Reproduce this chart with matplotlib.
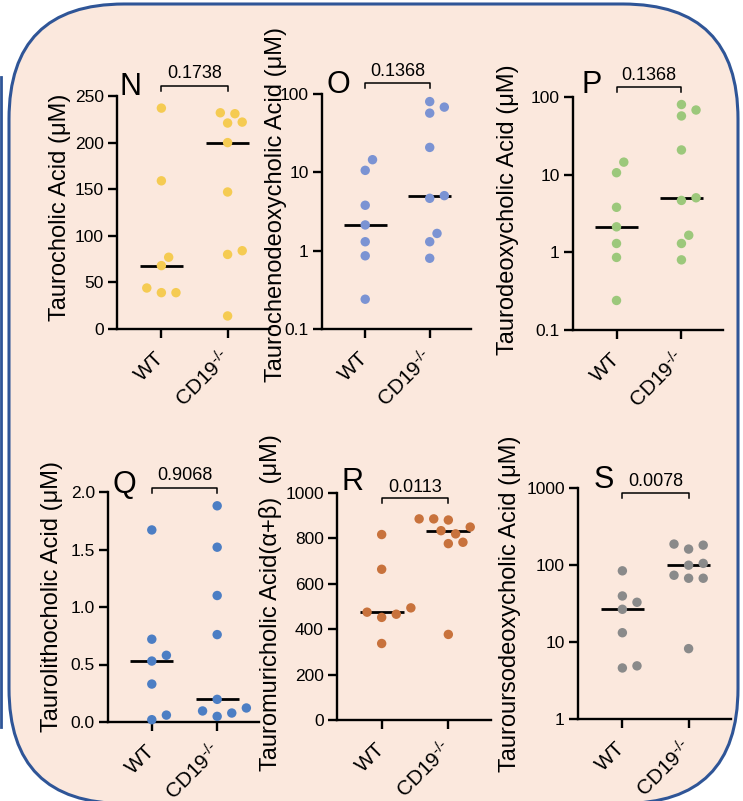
import numpy as np
import matplotlib
matplotlib.use("Agg")
import matplotlib.pyplot as plt
from matplotlib.patches import FancyBboxPatch
from matplotlib.transforms import blended_transform_factory
from matplotlib.ticker import FuncFormatter, NullLocator

plt.rcParams['font.family'] = ['Liberation Sans', 'DejaVu Sans']
plt.rcParams['mathtext.fontset'] = 'custom'
plt.rcParams['mathtext.rm'] = 'Liberation Sans'
plt.rcParams['mathtext.it'] = 'Liberation Sans:italic'

W, H = 743, 801

groups = ['WT', r'CD19$^{\text{-/-}}$']

# values (uM)
tca_wt = [237, 159, 77, 68, 44, 39, 39]
tca_ko = [232, 231, 222, 221, 200, 147, 84, 80, 14]
tcdca_wt = [14.5, 10.6, 3.8, 2.13, 1.30, 0.86, 0.24]
tcdca_ko = [80, 68, 57, 20.8, 5.04, 4.66, 1.66, 1.30, 0.80]
tdca_wt = [14.5, 10.6, 3.8, 2.13, 1.30, 0.86, 0.24]
tdca_ko = [80, 68, 57, 20.8, 5.04, 4.66, 1.66, 1.30, 0.80]
tlca_wt = [1.67, 0.72, 0.58, 0.53, 0.33, 0.06, 0.02]
tlca_ko = [1.88, 1.52, 1.10, 0.76, 0.197, 0.122, 0.096, 0.078, 0.049]
tmca_wt = [817, 664, 494, 475, 466, 452, 337]
tmca_ko = [886, 886, 881, 850, 834, 820, 783, 777, 377]
tudca_wt = [84, 39.6, 32.8, 26.6, 13.2, 4.9, 4.6]
tudca_ko = [187, 181, 161, 105, 99.4, 73.6, 67.3, 67.3, 8.2]

pvals = ['0.1738', '0.1368', '0.1368', '0.9068', '0.0113', '0.0078']
letters = ['N', 'O', 'P', 'Q', 'R', 'S']
ylabels = ['Taurocholic Acid (μM)',
           'Taurochenodeoxycholic Acid (μM)',
           'Taurodeoxycholic Acid (μM)',
           'Taurolithocholic Acid (μM)',
           'Tauromuricholic Acid(α+β)  (μM)',
           'Tauroursodeoxycholic Acid (μM)']
colors = ['#F5CB52', '#7B93D3', '#9CC87B', '#4C7EC4', '#C8723C', '#8A8A8A']
data = [(tca_wt, tca_ko), (tcdca_wt, tcdca_ko), (tdca_wt, tdca_ko),
        (tlca_wt, tlca_ko), (tmca_wt, tmca_ko), (tudca_wt, tudca_ko)]

# layout in pixels: axes box, y-label centre, letter pos, bracket y, p-text y
panels = [
    dict(box=(117, 96, 270, 329), ylim=(0, 250), yticks=[0, 50, 100, 150, 200, 250], log=False, fmt='{:g}',
         lab=(60, 207), let=(120, 95), br=86, pt=73),
    dict(box=(322, 94, 471, 329), ylim=(0.1, 100), yticks=[0.1, 1, 10, 100], log=True, fmt='{:g}',
         lab=(276, 205), let=(327, 93), br=83, pt=71),
    dict(box=(573, 97, 723, 330), ylim=(0.1, 100), yticks=[0.1, 1, 10, 100], log=True, fmt='{:g}',
         lab=(508, 210), let=(582, 93), br=87, pt=75),
    dict(box=(108, 492, 259, 722), ylim=(0, 2), yticks=[0, 0.5, 1, 1.5, 2], log=False, fmt='{:.1f}',
         lab=(52, 596), let=(112, 493), br=488, pt=475),
    dict(box=(337, 493, 491, 720), ylim=(0, 1000), yticks=[0, 200, 400, 600, 800, 1000], log=False, fmt='{:g}',
         lab=(270, 603), let=(341, 490), br=498, pt=487),
    dict(box=(578, 488, 731, 719), ylim=(1, 1000), yticks=[1, 10, 100, 1000], log=True, fmt='{:g}',
         lab=(510, 604), let=(594, 488), br=493, pt=482),
]


def swarm(ax, x0, vals, step=7.3, dmin=11.0):
    # simple beeswarm in pixel space, lowest values placed first
    pts = ax.transData.transform([[x0, v] for v in vals])
    placed = []
    xs = np.zeros(len(vals))
    cands = [0]
    for j in range(1, 12):
        cands += [j, -j]
    for i in np.argsort(vals):
        px, py = pts[i]
        for c in cands:
            cx = px + c * step
            if all((cx - qx) ** 2 + (py - qy) ** 2 >= dmin ** 2 for qx, qy in placed):
                break
        placed.append((cx, py))
        xs[i] = cx
    return ax.transData.inverted().transform(np.column_stack([xs, pts[:, 1]]))[:, 0]


fig = plt.figure(figsize=(W / 100, H / 100), dpi=100)
fig.patch.set_facecolor('white')

# rounded background panel (inches, via dpi_scale_trans), bottom edge just off the canvas
bg = FancyBboxPatch((9 / 100, (H - 803.5) / 100), 729 / 100, 799.5 / 100,
                    boxstyle='round,pad=0,rounding_size=1.15',
                    transform=fig.dpi_scale_trans, facecolor='#FBE8DD',
                    edgecolor='#2F5597', lw=2.2, zorder=-5)
fig.patches.append(bg)
edge = plt.Line2D([1 / W, 1 / W], [1 - 77 / H, 1 - 727 / H],
                  transform=fig.transFigure, color='#2F5597', lw=2, zorder=-5)
fig.add_artist(edge)

for k, p in enumerate(panels):
    l, t, r, b = p['box']
    ax = fig.add_axes([l / W, 1 - b / H, (r - l) / W, (b - t) / H])
    ax.patch.set_alpha(0)
    if p['log']:
        ax.set_yscale('log')
    ax.set_ylim(*p['ylim'])
    ax.set_xlim(-0.67, 1.64)
    ax.set_yticks(p['yticks'])
    ax.yaxis.set_minor_locator(NullLocator())
    ax.yaxis.set_major_formatter(FuncFormatter(lambda v, pos, f=p['fmt']: f.format(v)))
    for s in ['top', 'right']:
        ax.spines[s].set_visible(False)
    for s in ['left', 'bottom']:
        ax.spines[s].set_linewidth(1.7)
    ax.tick_params(width=1.7, length=6.5, labelsize=12.5, pad=3)
    ax.set_xticks([0, 1])
    ax.set_xticklabels(groups, rotation=45, ha='right', va='center',
                       rotation_mode='anchor', fontsize=15)
    ax.tick_params(axis='x', pad=12)

    for g, vals in enumerate(data[k]):
        xs = swarm(ax, g, vals)
        ax.scatter(xs, vals, s=46, color=colors[k], edgecolors='none', zorder=3, clip_on=False)
        ax.hlines(np.median(vals), g - 0.33, g + 0.33, color='black', lw=2, zorder=2)

    tr = blended_transform_factory(ax.transData, fig.transFigure)
    yb = 1 - p['br'] / H
    yl = 1 - (p['br'] + 5) / H
    ax.plot([0, 0, 1, 1], [yl, yb, yb, yl], transform=tr, color='black', lw=1.1, clip_on=False)
    ax.text(0.5, 1 - p['pt'] / H, pvals[k], transform=tr, ha='center', va='center', fontsize=13)

    fig.text(p['let'][0] / W, 1 - p['let'][1] / H, letters[k], fontsize=22,
             ha='left', va='baseline')
    fig.text(p['lab'][0] / W, 1 - p['lab'][1] / H, ylabels[k], rotation=90,
             ha='center', va='center', fontsize=17)

fig.savefig('out.png', dpi=100)
